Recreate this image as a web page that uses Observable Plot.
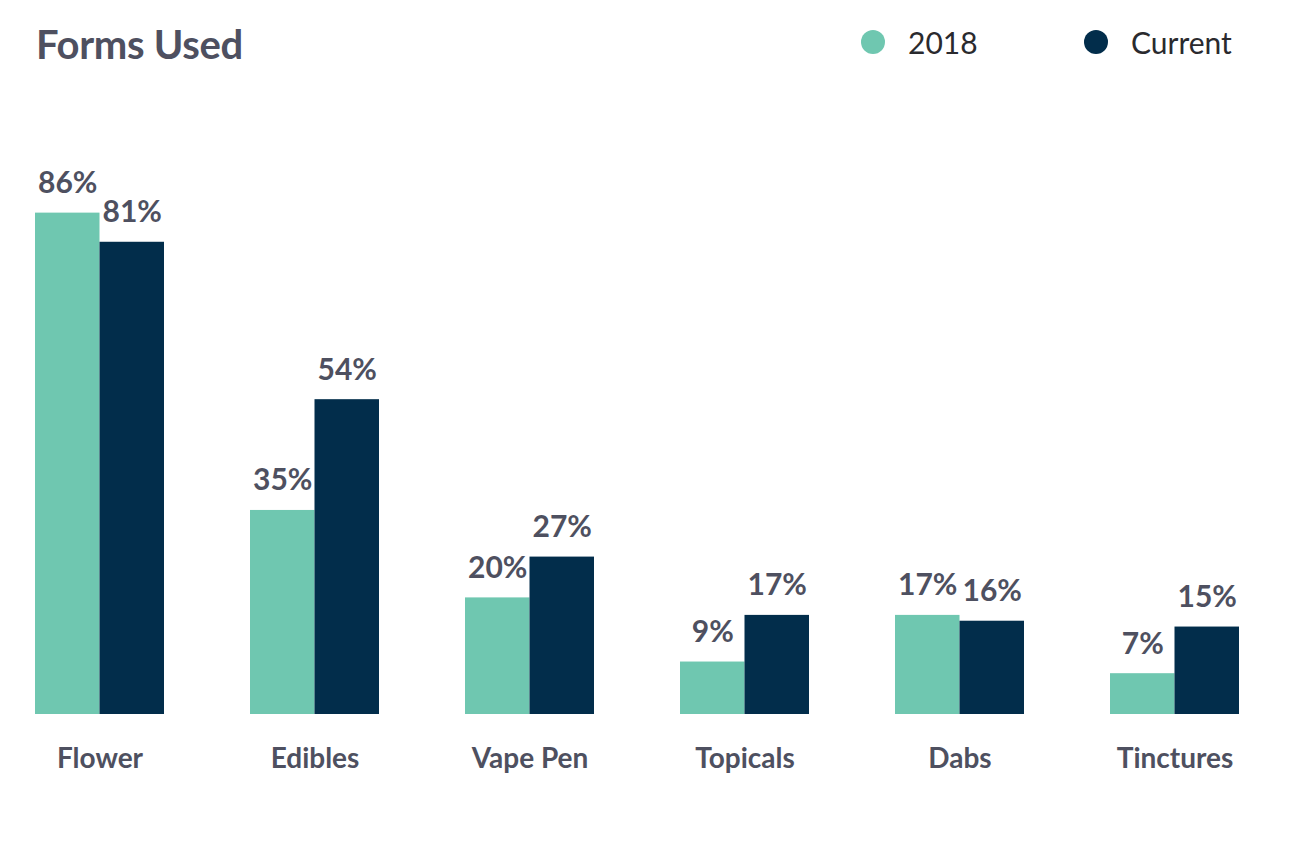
<!DOCTYPE html>
<html>
<head>
<meta charset="utf-8">
<script src="https://cdn.jsdelivr.net/npm/d3@7"></script>
<script src="https://cdn.jsdelivr.net/npm/@observablehq/plot@0.6"></script>
<style>
  html, body { margin: 0; padding: 0; background: #fff; }
  body { width: 1292px; height: 866px; overflow: hidden; font-family: Lato, "Noto Sans", sans-serif; }
  #header { position: relative; height: 100px; }
  #title { position: absolute; left: 36px; top: 24px; line-height: 1; font-size: 40px; font-weight: 700; color: #4e5060; letter-spacing: -0.3px; }
  .leg { position: absolute; top: 24px; display: flex; align-items: center; font-size: 30px; color: #2a2a2e; font-weight: 400; }
  .dot { width: 24px; height: 24px; border-radius: 50%; margin-right: 23px; }
</style>
</head>
<body>
<div id="header">
  <div id="title">Forms Used</div>
  <div class="leg" style="left:861px"><span class="dot" style="background:#6fc7b0"></span>2018</div>
  <div class="leg" style="left:1084px"><span class="dot" style="background:#022d4b"></span>Current</div>
</div>
<div id="chart"></div>
<script>
const categories = ["Flower", "Edibles", "Vape Pen", "Topicals", "Dabs", "Tinctures"];
const series = ["2018", "Current"];
const values2018 = [86, 35, 20, 9, 17, 7];
const valuesCurrent = [81, 54, 27, 17, 16, 15];
const colors = ["#6fc7b0", "#022d4b"];

const data = [];
categories.forEach((c, i) => {
  data.push({form: c, series: "2018", value: values2018[i]});
  data.push({form: c, series: "Current", value: valuesCurrent[i]});
});

const chart = Plot.plot({
  width: 1292,
  height: 766,
  marginLeft: 35,
  marginRight: 53,
  marginTop: 31,
  marginBottom: 152,
  style: {fontFamily: "Lato, 'Noto Sans', sans-serif", background: "#fff"},
  fx: {domain: categories, paddingInner: 0.40, paddingOuter: 0, round: false, axis: null, label: null},
  x: {domain: series, padding: 0, round: false, axis: null, label: null},
  y: {domain: [0, 100], axis: null, label: null},
  color: {domain: series, range: colors},
  marks: [
    Plot.barY(data, {fx: "form", x: "series", y: "value", fill: "series"}),
    Plot.text(data, {fx: "form", x: "series", y: "value", text: d => d.value + "%",
      lineAnchor: "bottom", dy: -20, fontSize: 30, fontWeight: 700, fill: "#4e5060"}),
    Plot.text(categories, {fx: d => d, frameAnchor: "bottom", text: d => d,
      dy: 53, lineAnchor: "bottom", fontSize: 28, fontWeight: 700, fill: "#4e5060"})
  ]
});
document.getElementById("chart").appendChild(chart);
</script>
</body>
</html>
